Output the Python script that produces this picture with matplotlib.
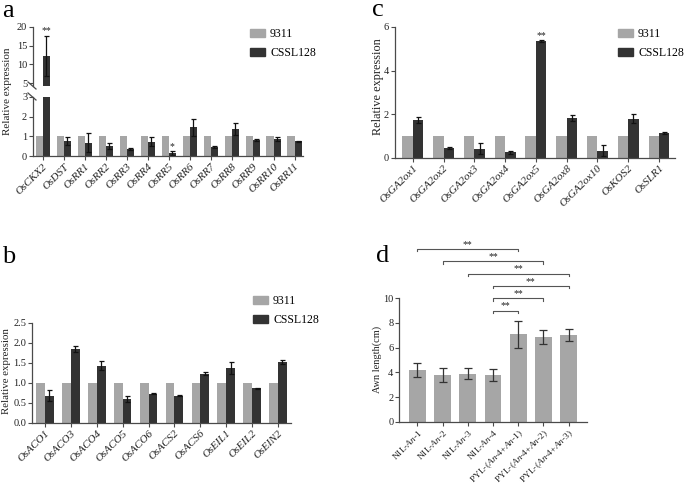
import matplotlib
matplotlib.use('Agg')
import matplotlib.pyplot as plt
import numpy as np
from matplotlib.patches import Patch
from matplotlib.lines import Line2D

plt.rcParams['font.family'] = ['Liberation Serif', 'DejaVu Serif']
plt.rcParams['mathtext.fontset'] = 'custom'
plt.rcParams['mathtext.rm'] = 'Liberation Serif'
plt.rcParams['mathtext.it'] = 'Liberation Serif:italic'

# ---------------- data ----------------
series_names = ['9311', 'CSSL128']

genes_a = ['OsCKX2', 'OsDST', 'OsRR1', 'OsRR2', 'OsRR3', 'OsRR4', 'OsRR5',
           'OsRR6', 'OsRR7', 'OsRR8', 'OsRR9', 'OsRR10', 'OsRR11']
ref_a = [1, 1, 1, 1, 1, 1, 1, 1, 1, 1, 1, 1, 1]
cssl_a = [12.3, 0.78, 0.68, 0.50, 0.36, 0.73, 0.17, 1.46, 0.46, 1.37, 0.82, 0.88, 0.75]
err_a = [5.4, 0.20, 0.47, 0.14, 0.06, 0.22, 0.10, 0.44, 0.04, 0.29, 0.06, 0.10, 0.03]
sig_a = ['**', '', '', '', '', '', '*', '', '', '', '', '', '']

genes_c = ['OsGA2ox1', 'OsGA2ox2', 'OsGA2ox3', 'OsGA2ox4', 'OsGA2ox5',
           'OsGA2ox8', 'OsGA2ox10', 'OsKOS2', 'OsSLR1']
ref_c = [1, 1, 1, 1, 1, 1, 1, 1, 1]
cssl_c = [1.73, 0.45, 0.41, 0.23, 5.36, 1.82, 0.32, 1.79, 1.12]
err_c = [0.13, 0.04, 0.24, 0.09, 0.05, 0.12, 0.27, 0.19, 0.05]
sig_c = ['', '', '', '', '**', '', '', '', '']

genes_b = ['OsACO1', 'OsACO3', 'OsACO4', 'OsACO5', 'OsACO6', 'OsACS2',
           'OsACS6', 'OsEIL1', 'OsEIL2', 'OsEIN2']
ref_b = [1, 1, 1, 1, 1, 1, 1, 1, 1, 1]
cssl_b = [0.68, 1.84, 1.43, 0.59, 0.73, 0.68, 1.23, 1.36, 0.86, 1.53]
err_b = [0.13, 0.08, 0.12, 0.07, 0.01, 0.02, 0.04, 0.15, 0.015, 0.05]

lines_d = [r'NIL-$\mathit{An}$-$\mathit{1}$', r'NIL-$\mathit{An}$-$\mathit{2}$',
           r'NIL-$\mathit{An}$-$\mathit{3}$', r'NIL-$\mathit{An}$-$\mathit{4}$',
           r'PYL-($\mathit{An}$-$\mathit{4}$+$\mathit{An}$-$\mathit{1}$)',
           r'PYL-($\mathit{An}$-$\mathit{4}$+$\mathit{An}$-$\mathit{2}$)',
           r'PYL-($\mathit{An}$-$\mathit{4}$+$\mathit{An}$-$\mathit{3}$)']
awn_d = [4.19, 3.78, 3.90, 3.78, 7.08, 6.85, 7.03]
awn_err_d = [0.58, 0.60, 0.45, 0.48, 1.08, 0.55, 0.52]
pairs_d = [(0, 4), (1, 5), (2, 6), (3, 6), (3, 5), (3, 4)]
pair_sig_d = ['**', '**', '**', '**', '**', '**']

# ---------------- style ----------------
GRAY = '#a6a6a6'
DARK = '#333333'
SPINE = '#4a4a4a'
TXT = '#222222'
W, H = 685, 488

fig = plt.figure(figsize=(6.85, 4.88), dpi=100)


def box(l, t, r, b):
    return [l / W, 1 - b / H, (r - l) / W, (b - t) / H]


def style(ax, ls=7.5):
    for s in ['top', 'right']:
        ax.spines[s].set_visible(False)
    for s in ['left', 'bottom']:
        ax.spines[s].set_color(SPINE)
        ax.spines[s].set_linewidth(0.9)
    ax.tick_params(direction='out', length=3, width=0.8, color=SPINE,
                   labelsize=ls, pad=1.2, labelcolor=TXT)


def grouped(ax, ref, val, err, w=0.34):
    x = np.arange(len(ref))
    ax.bar(x - w / 2, ref, w, color=GRAY, linewidth=0)
    ax.bar(x + w / 2, val, w, color=DARK, linewidth=0)
    ax.errorbar(x + w / 2, val, yerr=err, fmt='none', ecolor='#111111',
                elinewidth=0.9, capsize=1.8, capthick=0.9)
    return x


def xlabels(ax, x, labels, fs=8, italic=True):
    ax.set_xticks(x)
    ax.set_xticklabels(labels, rotation=45, ha='right', rotation_mode='anchor',
                       fontsize=fs, fontstyle='italic' if italic else 'normal')


def legend_at(l, t):
    handles = [Patch(color=GRAY), Patch(color=DARK)]
    fig.legend(handles, series_names, loc='upper left',
               bbox_to_anchor=(l / W, 1 - t / H), frameon=False, fontsize=8.5,
               handlelength=1.3, handleheight=0.6, handletextpad=0.4,
               labelspacing=0.6, borderpad=0, borderaxespad=0)


def ylab(x, y, s, fs):
    fig.text(x / W, 1 - y / H, s, rotation=90, ha='center', va='center',
             fontsize=fs, color=TXT)


# ---------------- panel a (broken axis) ----------------
a_up = fig.add_axes(box(33, 27, 303, 86))
a_lo = fig.add_axes(box(33, 97, 303, 156))
for ax in (a_up, a_lo):
    style(ax)
    xa = grouped(ax, ref_a, cssl_a, err_a)
    ax.set_xlim(-0.47, 12.4)
a_lo.set_ylim(0, 3)
a_lo.set_yticks([0, 1, 2, 3])
a_up.set_ylim(4.2, 20)
a_up.set_yticks([5, 10, 15, 20])
a_up.spines['bottom'].set_visible(False)
a_up.tick_params(axis='x', bottom=False, labelbottom=False)
xlabels(a_lo, xa, genes_a)
for i, s in enumerate(sig_a):
    if s:
        ax = a_up if cssl_a[i] + err_a[i] > 3 else a_lo
        ax.text(xa[i] + 0.17, cssl_a[i] + err_a[i], s, ha='center', va='bottom',
                fontsize=7, color=TXT)
# break marks
for yb in (86, 97):
    fig.add_artist(Line2D([28 / W, 36 / W], [1 - (yb - 4) / H, 1 - (yb + 3) / H],
                          color=SPINE, lw=0.9))
ylab(8, 91, 'Relative expression', 8)
legend_at(250, 28)

# ---------------- panel c ----------------
ac = fig.add_axes(box(395, 27, 675, 157.5))
style(ac)
xc = grouped(ac, ref_c, cssl_c, err_c)
ac.set_xlim(-0.58, 8.52)
ac.set_ylim(0, 6)
ac.set_yticks([0, 2, 4, 6])
xlabels(ac, xc, genes_c)
for i, s in enumerate(sig_c):
    if s:
        ac.text(xc[i] + 0.17, cssl_c[i] + err_c[i], s, ha='center', va='bottom',
                fontsize=7, color=TXT)
ylab(378, 87, 'Relative expression', 8.8)
legend_at(618, 28)

# ---------------- panel b ----------------
ab = fig.add_axes(box(32, 322.7, 291, 422.7))
style(ab)
xb = grouped(ab, ref_b, cssl_b, err_b)
ab.set_xlim(-0.5, 9.5)
ab.set_ylim(0, 2.5)
ab.set_yticks(np.arange(0, 2.51, 0.5))
ab.set_yticklabels([f'{v:.1f}' for v in np.arange(0, 2.51, 0.5)])
xlabels(ab, xb, genes_b)
ylab(7, 371, 'Relative expression', 7.8)
legend_at(253, 295)

# ---------------- panel d ----------------
ad = fig.add_axes(box(399.3, 298.3, 586.7, 421.7))
style(ad)
xd = np.arange(len(awn_d))
ad.bar(xd, awn_d, 0.66, color=GRAY, linewidth=0)
ad.errorbar(xd, awn_d, yerr=awn_err_d, fmt='none', ecolor='#333333',
            elinewidth=0.9, capsize=3.2, capthick=0.9)
ad.set_xlim(-0.72, 6.72)
ad.set_ylim(0, 10)
ad.set_yticks([0, 2, 4, 6, 8, 10])
xlabels(ad, xd, lines_d, fs=6.8, italic=False)
ylab(377, 359, 'Awn length(cm)', 7.5)
top_level = 9 + len(pairs_d) - 1
for k, ((i, j), s) in enumerate(zip(pairs_d, pair_sig_d)):
    y = top_level - k
    ad.plot([xd[i], xd[i], xd[j], xd[j]], [y - 0.2, y, y, y - 0.2],
            color='#555555', lw=0.8, clip_on=False)
    ad.text((xd[i] + xd[j]) / 2, y + 0.02, s, ha='center', va='bottom',
            fontsize=7, color=TXT, clip_on=False)

# ---------------- panel letters ----------------
for lab, x, y in [('a', 2, 17), ('c', 372, 16), ('b', 2, 263), ('d', 376, 262)]:
    fig.text(x / W, 1 - y / H, lab, fontsize=19, va='baseline', ha='left')

fig.savefig('out.png', dpi=100)
